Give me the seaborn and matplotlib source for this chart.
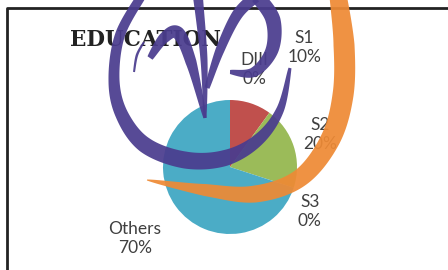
import numpy as np
import matplotlib.pyplot as plt
import seaborn as sns
from matplotlib.patches import Polygon

# data
categories = ["DIII", "S1", "S2", "S3", "Others"]
values = [0, 10, 20, 0, 70]
pct_labels = ["0%", "10%", "20%", "0%", "70%"]
colors = ["#4F81BD", "#C0504D", "#9BBB59", "#8064A2", "#4BACC6"]

sns.set_theme(style="white")
plt.rcParams["font.family"] = ["Lato", "DejaVu Sans"]

W, H = 448, 270
fig = plt.figure(figsize=(4.48, 2.70), dpi=100)
ax = fig.add_axes([0, 0, 1, 1])


def Y(y):
    # top-down pixel -> axes y
    return H - np.asarray(y, dtype=float)


cx, cy, r = 230, Y(167), 67
wedges, _ = ax.pie(values, colors=colors, startangle=90, counterclock=False,
                   center=(cx, cy), radius=r, frame=True,
                   wedgeprops=dict(linewidth=0))
ax.set_xlim(0, W)
ax.set_ylim(0, H)
ax.set_aspect("equal")
ax.axis("off")

# label placement (distance in radii, angle nudge in degrees)
place = [(1.5, -14), (2.1, -14), (1.43, 2), (1.36, -11), (1.78, 1)]
for w, cat, p, (d, da) in zip(wedges, categories, pct_labels, place):
    ang = np.deg2rad((w.theta1 + w.theta2) / 2 + da)
    ax.text(cx + d * r * np.cos(ang), cy + d * r * np.sin(ang), f"{cat}\n{p}",
            ha="center", va="center", fontsize=12.5, color="#404040",
            linespacing=1.25)

ax.text(70, Y(40), "EDUCATION", family=["DejaVu Serif"], fontweight="bold",
        fontsize=15.5, color="#222222", ha="left", va="center")

# frame
ax.plot([7, 7, W + 5], [-5, Y(8), Y(8)], color="#222222", lw=2, solid_capstyle="butt")


# ---- watermark logo (decoration) ----
def smooth(px, py, n=30):
    # catmull-rom through control points
    px, py = np.r_[px[0], px, px[-1]], np.r_[py[0], py, py[-1]]
    xs, ys = [], []
    for i in range(1, len(px) - 2):
        t = np.linspace(0, 1, n, endpoint=False)
        for arr, out in ((px, xs), (py, ys)):
            p0, p1, p2, p3 = arr[i - 1], arr[i], arr[i + 1], arr[i + 2]
            out.append(0.5 * (2 * p1 + (-p0 + p2) * t + (2 * p0 - 5 * p1 + 4 * p2 - p3) * t ** 2
                              + (-p0 + 3 * p1 - 3 * p2 + p3) * t ** 3))
    xs.append([px[-2]]); ys.append([py[-2]])
    return np.concatenate(xs), np.concatenate(ys)


def band(px, py, widths, color, z, alpha=0.93):
    x, y = smooth(np.array(px, float), np.array(py, float))
    wv = np.interp(np.linspace(0, 1, len(x)), np.linspace(0, 1, len(widths)), widths)
    dx, dy = np.gradient(x), np.gradient(y)
    nrm = np.hypot(dx, dy) + 1e-9
    nx, ny = -dy / nrm, dx / nrm
    x1, y1 = x + nx * wv / 2, y + ny * wv / 2
    x2, y2 = x - nx * wv / 2, y - ny * wv / 2
    pts = np.column_stack([np.r_[x1, x2[::-1]], Y(np.r_[y1, y2[::-1]])])
    ax.add_patch(Polygon(pts, closed=True, color=color, alpha=alpha, lw=0, zorder=z))


# orange crescent
band([338, 344, 343, 330, 300, 255, 205, 147],
     [-5, 45, 95, 140, 178, 194, 190, 180],
     [17, 21, 21, 20, 18, 17, 12, 1], "#EE8A35", 5)

# purple ring
purple = "#4A3C8E"
band([142, 120, 114, 122, 145, 185, 225, 258, 280, 290],
     [-5, 35, 80, 115, 145, 160, 158, 140, 110, 68],
     [9, 10, 11, 13, 16, 17, 16, 12, 8, 3], purple, 6)

# the W inside
band([144, 137, 134], [42, 55, 72], [2, 2.5, 2], purple, 6)
band([150, 164, 178, 191, 205], [58, 38, 33, 62, 118], [6, 11, 13, 11, 3], purple, 6)
band([198, 204, 205], [-3, 60, 118], [10, 7, 3], purple, 6)
band([207, 220, 237, 255], [88, 50, 15, -3], [5, 9, 11, 12], purple, 6)
band([258, 273, 272, 254, 230], [-3, 20, 50, 72, 72], [14, 15, 13, 10, 4], purple, 6)

fig.savefig("out.png", dpi=100)
